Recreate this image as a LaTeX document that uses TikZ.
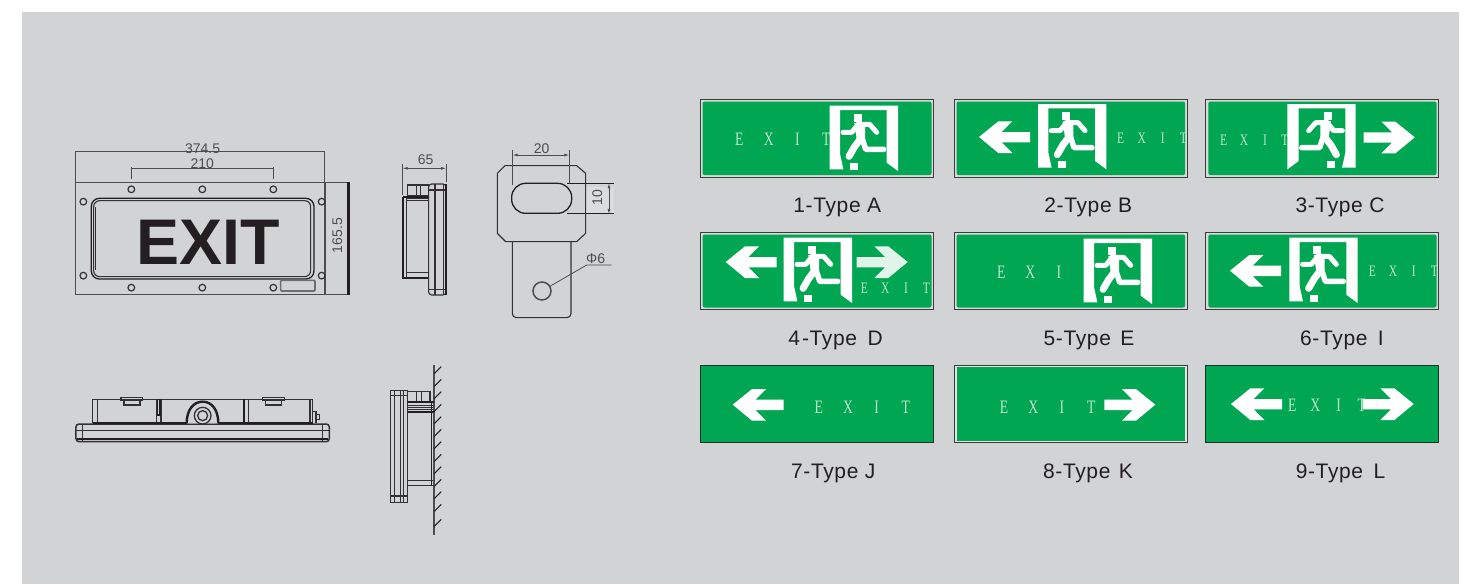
\documentclass[tikz,border=0pt]{standalone}
\usepackage{fontspec}
\usetikzlibrary{arrows.meta}
\setmainfont{Liberation Sans}
\newfontfamily\labf[LetterSpace=3]{Liberation Sans}
\newfontfamily\exitf[FakeStretch=.72]{Liberation Serif}
\definecolor{bgc}{HTML}{D1D3D4}
\definecolor{gr}{HTML}{00A651}
\definecolor{ltr}{HTML}{BFE6CC}
\definecolor{ink}{HTML}{231F20}
\definecolor{dimc}{HTML}{4D4D4F}
\tikzset{
 biglet/.style={inner sep=0pt,text=ltr,font=\exitf\fontsize{19}{19}\selectfont},
 smalllet/.style={inner sep=0pt,text=ltr,font=\exitf\fontsize{16}{16}\selectfont},
 typelabel/.style={anchor=base,inner sep=0pt,text=ink,font=\labf\fontsize{21}{21}\selectfont},
 dimtext/.style={inner sep=0pt,text=dimc,font=\fontsize{14}{14}\selectfont},
 dimline/.style={draw=dimc,line width=.8pt},
 dimarrow/.style={dimline,{Latex[length=5pt,width=3pt]}-{Latex[length=5pt,width=3pt]}},
 part/.style={draw=ink!90!bgc,line width=1.1pt},
 heavy/.style={draw=ink,line width=1.7pt},
 limb/.style={draw=white,line width=5pt,line cap=round,line join=round},
}
\newcommand\framedsign[4]{%
 \fill[bgc!85!white,draw=ink!85!bgc,line width=1pt] (#1,#2) rectangle (#3,#4);
 \fill[gr,rounded corners=2pt] (#1+2.6,#2+2.2) rectangle (#3-2.2,#4-2.2);}
\newcommand\lightsign[4]{%
 \fill[bgc!60!white,draw=ink!85!bgc,line width=1pt] (#1,#2) rectangle (#3,#4);
 \fill[gr] (#1+2.6,#2+2) rectangle (#3-2,#4-1.5);}
\newcommand\fullsign[4]{%
 \fill[gr,draw=ink!85!gr,line width=1pt] (#1,#2) rectangle (#3,#4);}
\newcommand\rundoor[3]{%
 \begin{scope}[shift={(#1,#2)},x=#3*.3333pt,y=-.3333pt]
 \fill[white] (0,0)--(205,0)--(205,196)--(171,171)--(171,13)--(31,13)--(31,145)--(41,191)--(0,191)--cycle;
 \fill[white] (72,25) rectangle (96,48);
 \fill[white] (61,172) rectangle (85,193);
 \draw[limb] (40,80)--(66,80)--(84,58);
 \draw[limb] (84,56)--(120,56)--(141,80);
 \fill[white] (74,52)--(106,52)--(106,100)--(82,108)--cycle;
 \draw[limb,line width=5.5pt] (98,100)--(108,131)--(162,131);
 \draw[limb,line width=7pt] (92,100)--(74,124)--(58,152);
 \end{scope}}
\newcommand\sharrow[3]{%
 \begin{scope}[shift={(#1,#2)},x=#3*.3333pt,y=-.3333pt]
 \fill[white] (0,0)--(58,-47)--(100,-47)--(68,-15)--(153,-15)--(153,16)--(68,16)--(100,48)--(58,48)--cycle;
 \end{scope}}
\newcommand\letters[4]{\foreach \l/\x in {#4} \node[#1] (#2\l) at (\x,#3) {\l};}
\begin{document}
\begin{tikzpicture}[x=1pt,y=-1pt]
\useasboundingbox (0,0) rectangle (1477,584);
\fill[white] (0,0) rectangle (1477,584);
\fill[bgc] (22,12) rectangle (1459,584);

% ---------- front view
\begin{scope}[shift={(60,130)},x=.3333pt,y=-.3333pt]
 \draw[part,draw=dimc] (47,157) rectangle (795,494);
 \draw[dimline,line width=1pt] (47,157)--(47,65)--(795,65)--(795,157);
 \draw[dimline] (795,157)--(862,157) (795,494)--(862,494);
 \fill[ink] (860,157) rectangle (871,494);
 \draw[dimline,line width=1pt] (214,148)--(214,110) (214,115)--(640,115) (640,148)--(640,110);
 \node[dimtext] (d374) at (428,55) {374.5};
 \node[dimtext] (d210) at (427,100) {210};
 \node[dimtext,rotate=90] (d165) at (832,317) {165.5};
 \foreach \p in {(214,178),(427,178),(640,178),(214,473),(427,473),(640,473),(70,215),(70,437),(785,215),(785,437)}
  \draw[part,line width=1.2pt] \p circle[radius=10];
 \draw[heavy,line width=1.3pt,rounded corners=8pt] (94,205) rectangle (762,447);
 \draw[part,rounded corners=6pt] (101,212) rectangle (752,440);
 \draw[part] (107,230)--(107,420);
 \node[anchor=base,inner sep=0pt,text=ink,font=\bfseries\fontsize{64.5}{65}\selectfont] (exit) at (445,405) {EXIT};
 \fill[bgc,draw=dimc!75!bgc,line width=1.6pt,rounded corners=1pt] (662,451) rectangle (765,483);
\end{scope}

% ---------- side view with 65
\begin{scope}[shift={(390,130)},x=.3333pt,y=-.3333pt]
 \node[dimtext] (d65) at (107,88) {65};
 \draw[dimline] (38,102)--(38,195) (168,102)--(168,155);
 \draw[dimarrow] (38,115)--(168,115);
 \draw[part] (52,165) rectangle (116,198);
 \draw[part] (80,165)--(80,198) (92,165)--(92,198);
 \draw[heavy] (40,200)--(116,200);
 \draw[part,line width=.8pt] (50,205)--(116,205) (50,210)--(116,210);
 \draw[heavy] (40,200)--(40,443)--(116,443);
 \draw[part] (50,205)--(50,443) (50,428)--(116,428);
 \draw[part,rounded corners=3pt] (116,162)--(116,495)--(168,495)--(168,162)--cycle;
 \draw[part] (135,162)--(135,495) (160,162)--(160,495) (116,180)--(168,180) (116,478)--(168,478);
 \draw[heavy,line width=1.4pt] (168,162)--(168,495);
\end{scope}

% ---------- bracket
\begin{scope}[shift={(390,130)},x=.3333pt,y=-.3333pt]
 \fill[bgc!80!white] (587,170) rectangle (672,250);
 \draw[part] (345,107)--(560,107)--(587,130)--(587,310)--(560,335)--(347,335)--(322,310)--(322,130)--cycle;
 \draw[heavy,line width=1.3pt,rounded corners=14pt] (365,160) rectangle (545,250);
 \draw[part,rounded corners=4pt] (367,335)--(367,563)--(543,563)--(543,335);
 \draw[draw=dimc,line width=1.5pt] (456,483) circle[radius=27];
 \draw[dimline] (478,470)--(590,405)--(665,405);
 \node[dimtext] (dphi) at (617,385) {Φ6};
 \draw[dimline,line width=1pt] (368,60)--(368,165);
 \draw[dimline,line width=1.2pt] (538,60)--(538,160);
 \draw[dimarrow] (368,75)--(538,75);
 \node[dimtext] (d20) at (455,55) {20};
 \draw[heavy,line width=1pt] (532,160)--(672,160) (532,252)--(672,252);
 \draw[dimarrow] (657,160)--(657,252);
 \node[dimtext,rotate=90] (d10) at (622,202) {10};
\end{scope}

% ---------- bottom view
\begin{scope}[shift={(60,360)},x=.3333pt,y=-.3333pt]
 \draw[part,line width=1.5pt,rounded corners=3pt] (48,192) rectangle (808,245);
 \draw[part] (48,212)--(808,212) (68,192)--(68,245) (788,192)--(788,245);
 \draw[heavy,line width=1.2pt] (52,237)--(804,237);
 \draw[part] (98,190)--(98,118)--(758,118)--(758,190);
 \draw[part] (112,118)--(112,190) (750,118)--(750,190) (290,118)--(290,190) (303,118)--(303,190) (553,118)--(553,190) (565,118)--(565,190);
 \draw[heavy,line width=1.5pt] (292,118)--(300,118)--(300,165)--(292,165)--cycle;
 \fill[ink] (550,118) rectangle (556,190);
 \draw[heavy] (98,190)--(380,190) (475,190)--(758,190);
 \draw[part,line width=1.4pt,fill=bgc] (183,112) rectangle (247,120);
 \draw[part,line width=1.4pt,fill=bgc] (192,120) rectangle (240,135);
 \draw[part,line width=1.4pt,fill=bgc] (608,112) rectangle (673,120);
 \draw[part,line width=1.4pt,fill=bgc] (617,120) rectangle (665,135);
 \draw[heavy,line width=2.4pt,fill=bgc] (380,190) .. controls (380,150) and (400,125) .. (428,125) .. controls (456,125) and (475,150) .. (475,190);
 \draw[part,line width=1.3pt] (428,167) circle[radius=25];
 \draw[part,line width=1.3pt] (428,167) circle[radius=15];
 \draw[part] (758,155)--(768,155)--(768,190);
 \draw[part] (768,163) rectangle (778,178);
\end{scope}

% ---------- wall view
\begin{scope}[shift={(60,360)},x=.3333pt,y=-.3333pt]
 \draw[draw=dimc,line width=1.2pt] (1122,15)--(1122,525);
 \foreach \y in {42,80,117,155,192,230,267,305,342,380,417,455,500}
  \draw[draw=ink,line width=1.1pt] (1122,\y)--(1144,\y-22);
 \draw[part,line width=1.4pt] (992,92) rectangle (1042,427);
 \draw[part] (1003,92)--(1003,427) (1022,92)--(1022,427) (1030,92)--(1030,427) (992,107)--(1042,107) (992,408)--(1042,408);
 \draw[part] (1042,95) rectangle (1110,127);
 \draw[part] (1070,95)--(1070,127) (1085,95)--(1085,127);
 \draw[heavy] (1042,127)--(1122,127);
 \draw[heavy] (1042,155)--(1122,155);
 \draw[part,line width=.8pt] (1042,135)--(1118,135) (1042,142)--(1118,142) (1042,148)--(1118,148);
 \draw[part] (1042,127)--(1042,377) (1042,362)--(1118,362) (1042,377)--(1118,377);
 \draw[heavy] (1115,127)--(1115,377);
\end{scope}

% ---------- signs
\framedsign{700}{99.3}{933.7}{177.3}
\letters{biglet}{a}{139.3}{E/739.3,X/768.7,I/797.3,T/826.3}
\rundoor{829.7}{105.7}{1}
\node[typelabel] (lbl1) at (837.3,212.7) {1-Type A};

\framedsign{954}{99.3}{1187.3}{177.3}
\sharrow{979}{137}{1}
\letters{smalllet}{b}{138.3}{E/1120.7,X/1141.7,I/1162.7,T/1183.3}
\rundoor{1038}{104}{1}
\node[typelabel] (lbl2) at (1088.3,212.7) {2-Type B};

\framedsign{1205.7}{99.3}{1438.7}{177.3}
\letters{smalllet}{c}{140}{E/1223.7,X/1244,I/1265,T/1285}
\rundoor{1355.7}{104}{-1}
\sharrow{1414.7}{137.3}{-1}
\node[typelabel] (lbl3) at (1340,212.7) {3-Type C};

\framedsign{700}{232.3}{933.7}{309.7}
\sharrow{725.7}{262}{1}
\rundoor{783.7}{237.7}{1}
\begin{scope}[opacity=.88]\sharrow{907.7}{262}{-1}\end{scope}
\letters{smalllet}{d}{288.3}{E/864.3,X/885.3,I/906,T/926.3}
\node[typelabel] (lbl4) at (835.5,345) {4\hspace{2pt}-Type\hspace{4pt} D};

\framedsign{954}{232.3}{1187.3}{309.7}
\letters{biglet}{e}{272.3}{E/1001.3,X/1030.3,I/1059}
\rundoor{1083.7}{238.7}{1}
\node[typelabel] (lbl5) at (1089,345) {5-Type\hspace{3pt} E};

\framedsign{1205.7}{232.3}{1438.7}{309.7}
\sharrow{1230}{270.7}{1}
\rundoor{1289.3}{237.7}{1}
\letters{smalllet}{f}{271.7}{E/1372.3,X/1393,I/1413.7,T/1434.3}
\node[typelabel] (lbl6) at (1342,345) {6-Type\hspace{4pt} I};

\fullsign{700}{365.3}{933.7}{442.7}
\sharrow{732.7}{404.7}{1}
\letters{biglet}{g}{407.3}{E/818.7,X/848,I/876.7,T/905.7}
\node[typelabel] (lbl7) at (833.3,478) {7-Type J};

\lightsign{954}{365.3}{1187.3}{442.7}
\letters{biglet}{h}{407.3}{E/1004,X/1033.3,I/1062,T/1091.3}
\sharrow{1155.3}{404.7}{-1}
\node[typelabel] (lbl8) at (1088,478) {8-Type\hspace{2pt} K};

\fullsign{1205.7}{365.3}{1438.7}{442.7}
\sharrow{1231}{404}{1}
\letters{biglet}{i}{405.3}{E/1292.3,X/1315.3,I/1338.7,T/1361.7}
\sharrow{1413.7}{404}{-1}
\node[typelabel] (lbl9) at (1340.5,478) {9-Type\hspace{4pt} L};
\end{tikzpicture}
\end{document}
